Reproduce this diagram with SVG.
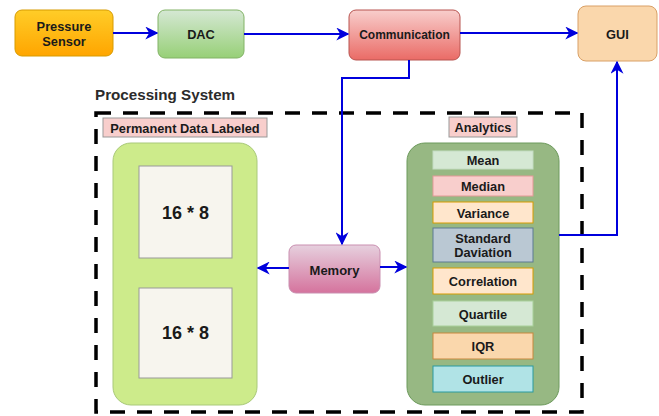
<svg xmlns="http://www.w3.org/2000/svg" width="659" height="416" viewBox="0 0 659 416">
<defs>
<linearGradient id="gOrange" x1="0" y1="0" x2="0" y2="1"><stop offset="0" stop-color="#ffcd28"/><stop offset="1" stop-color="#ffa500"/></linearGradient>
<linearGradient id="gGreen" x1="0" y1="0" x2="0" y2="1"><stop offset="0" stop-color="#d5e8d4"/><stop offset="1" stop-color="#97d077"/></linearGradient>
<linearGradient id="gRed" x1="0" y1="0" x2="0" y2="1"><stop offset="0" stop-color="#f8cecc"/><stop offset="1" stop-color="#ea6b66"/></linearGradient>
<linearGradient id="gPink" x1="0" y1="0" x2="0" y2="1"><stop offset="0" stop-color="#e6d0de"/><stop offset="1" stop-color="#d5739d"/></linearGradient>
<marker id="arr" viewBox="0 0 10 10" refX="9" refY="5" markerWidth="6.5" markerHeight="6.5" markerUnits="strokeWidth" orient="auto">
<path d="M0,0 L10,5 L0,10 L3,5 Z" fill="#0000dd"/>
</marker>
<style>
.lbl{font-family:"Liberation Sans",Arial,sans-serif;font-weight:bold;font-size:12.8px;fill:#1a1a1a;text-anchor:middle;dominant-baseline:central}
.big{font-size:18px}
.conn{fill:none;stroke:#0000dd;stroke-width:2;marker-end:url(#arr)}
.item{stroke-width:1}
</style>
</defs>

<g id="processing-system">
<text x="95" y="100" font-family="Liberation Sans,Arial,sans-serif" font-weight="bold" font-size="15.2" fill="#2b2b2b">Processing System</text>
<rect x="96" y="113" width="486" height="299" fill="none" stroke="#000" stroke-width="3.5" stroke-dasharray="15 12"/>
</g>

<g id="pressure-sensor">
<rect x="15" y="10" width="98" height="46" rx="7" fill="url(#gOrange)" stroke="#d79b00"/>
<text class="lbl" x="64" y="26">Pressure</text>
<text class="lbl" x="64" y="41">Sensor</text>
</g>

<g id="dac">
<rect x="158" y="10" width="86" height="48" rx="7" fill="url(#gGreen)" stroke="#82b366"/>
<text class="lbl" x="201" y="34">DAC</text>
</g>

<g id="communication">
<rect x="349" y="10" width="111" height="50" rx="7" fill="url(#gRed)" stroke="#b85450"/>
<text class="lbl" x="404.5" y="35" style="font-size:12px">Communication</text>
</g>

<g id="gui">
<rect x="578" y="6" width="79" height="55" rx="8" fill="#fad7ac" stroke="#d9a066"/>
<text class="lbl" x="617.5" y="34">GUI</text>
</g>

<g id="permanent-data-label">
<rect x="103" y="118" width="164" height="19" fill="#f8cecc" stroke="#999"/>
<text class="lbl" x="185" y="128">Permanent Data Labeled</text>
</g>

<g id="permanent-data">
<rect x="113" y="143" width="144" height="262" rx="18" fill="#cdeb8b" stroke="#a9c97a"/>
<rect x="139" y="166" width="93" height="92" fill="#f7f5ee" stroke="#999"/>
<text class="lbl big" x="185.5" y="213">16 * 8</text>
<rect x="139" y="288" width="93" height="90" fill="#f7f5ee" stroke="#999"/>
<text class="lbl big" x="185.5" y="333">16 * 8</text>
</g>

<g id="memory">
<rect x="289" y="245" width="91" height="48" rx="7" fill="url(#gPink)" stroke="#c98fb0"/>
<text class="lbl" x="334.5" y="270" style="font-size:13px">Memory</text>
</g>

<g id="analytics-label">
<rect x="449" y="117" width="68" height="20" fill="#f8cecc" stroke="#999"/>
<text class="lbl" x="483" y="127.5">Analytics</text>
</g>

<g id="analytics">
<rect x="407" y="143" width="152" height="262" rx="18" fill="#97b883" stroke="#6d9a5c"/>
<rect class="item" x="433" y="151" width="100" height="18" fill="#d5e8d4" stroke="#c4dcc2"/>
<text class="lbl" x="483" y="160.5">Mean</text>
<rect class="item" x="433" y="176" width="100" height="20" fill="#f8cecc" stroke="#e49a97"/>
<text class="lbl" x="483" y="186.5">Median</text>
<rect class="item" x="433" y="202" width="100" height="21" fill="#ffe6cc" stroke="#d79b00"/>
<text class="lbl" x="483" y="213">Variance</text>
<rect class="item" x="433" y="228" width="100" height="34" fill="#bac8d3" stroke="#5c7a93"/>
<text class="lbl" x="483" y="238">Standard</text>
<text class="lbl" x="483" y="252.5">Daviation</text>
<rect class="item" x="433" y="268" width="100" height="26" fill="#ffe6cc" stroke="#d79b00"/>
<text class="lbl" x="483" y="281.5">Correlation</text>
<rect class="item" x="433" y="301" width="100" height="25" fill="#d5e8d4" stroke="#a9d09b"/>
<text class="lbl" x="483" y="314">Quartile</text>
<rect class="item" x="433" y="333" width="100" height="26" fill="#fad7ac" stroke="#c8873c"/>
<text class="lbl" x="483" y="346.5">IQR</text>
<rect class="item" x="433" y="366" width="100" height="26" fill="#b0e3e6" stroke="#2a9aa0"/>
<text class="lbl" x="483" y="379">Outlier</text>
</g>

<g id="connectors">
<path class="conn" d="M113,33 L157,33"/>
<path class="conn" d="M244,34 L348,34"/>
<path class="conn" d="M460,33 L577,33"/>
<path class="conn" d="M409,60 L409,78 L342,78 L342,244"/>
<path class="conn" d="M289,268 L258,268"/>
<path class="conn" d="M380,267 L406,267"/>
<path class="conn" d="M559,235 L617,235 L617,62"/>
</g>
</svg>
